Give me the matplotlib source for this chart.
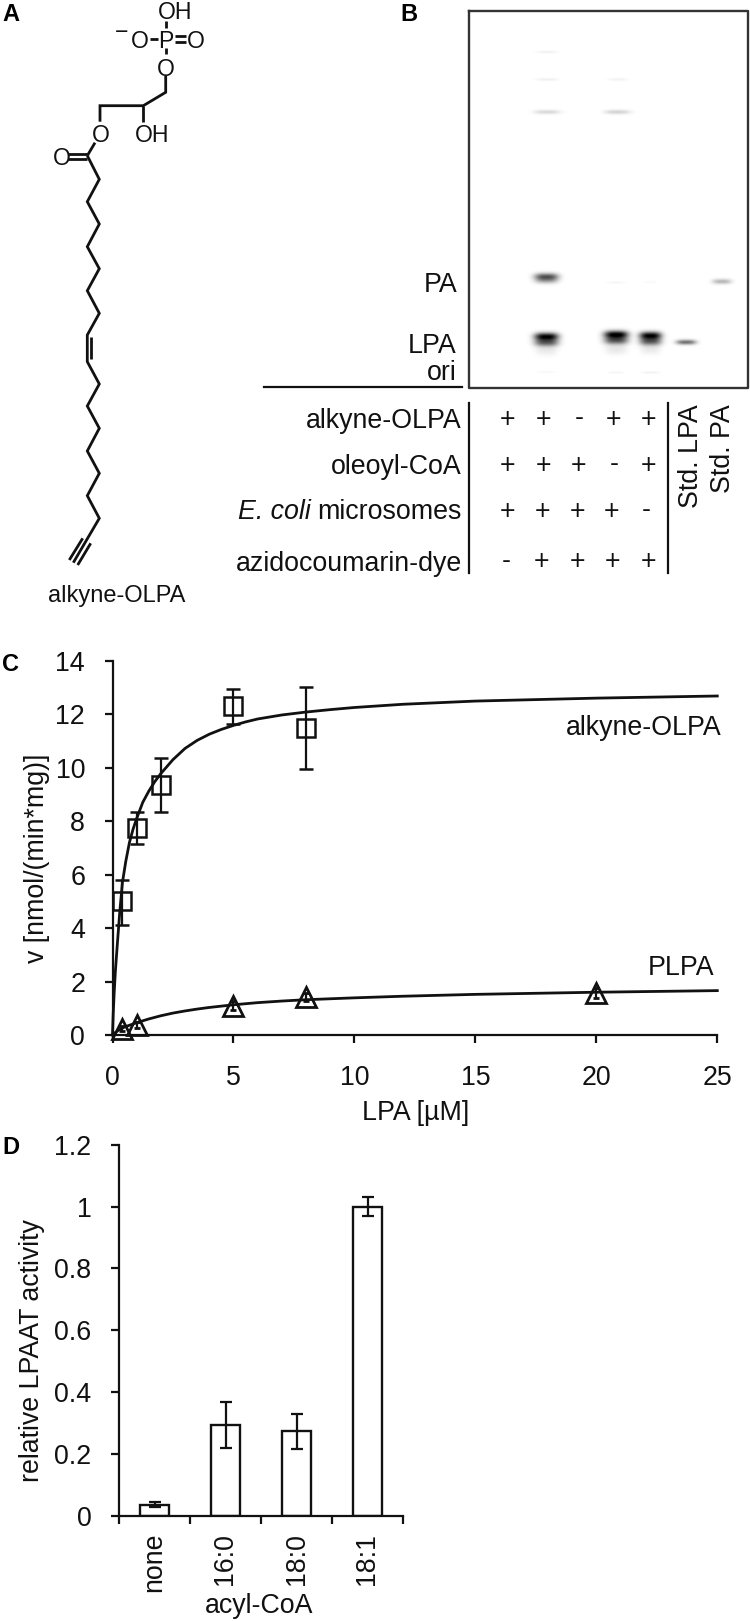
"""Figura de cuatro paneles: estructura alkyne-OLPA, TLC, cinética y especificidad de acil-CoA."""
import numpy as np
import matplotlib
matplotlib.use('Agg')
import matplotlib.pyplot as plt

plt.rcParams['font.family'] = ['Liberation Sans', 'DejaVu Sans']

W, H = 750, 1621
INK = '#111111'
FS = 19.3

# Panel C
alkyne_x = [0.4, 1, 2, 5, 8]
alkyne_y = [5.0, 7.75, 9.35, 12.3, 11.5]
alkyne_hi = [5.8, 8.35, 10.35, 12.95, 13.0]
alkyne_lo = [4.1, 7.15, 8.35, 11.65, 9.95]
plpa_x = [0.4, 1, 5, 8, 20]
plpa_y = [0.24, 0.37, 1.1, 1.43, 1.57]
plpa_err = [0.1, 0.1, 0.17, 0.15, 0.2]
fit_alkyne_x = [0, .03, .07, .12, .2, .3, .41, .55, .7, .85, 1, 1.25, 1.5, 1.75, 2, 2.5, 3, 3.5, 4, 4.5, 5, 5.5, 6, 7, 8, 9, 10, 12, 15, 20, 25]
fit_alkyne_y = [0, .8, 1.6, 2.4, 3.4, 4.6, 5.7, 6.5, 7.2, 7.7, 8.1, 8.7, 9.12, 9.48, 9.78, 10.3, 10.72, 11.02, 11.25, 11.43, 11.58, 11.71, 11.82, 11.97, 12.08, 12.17, 12.25, 12.37, 12.49, 12.6, 12.68]
fit_plpa_x = [0, .1, .25, .5, .75, 1, 1.5, 2, 2.5, 3, 3.5, 4, 4.5, 5, 6, 7, 8, 10, 12, 15, 20, 25]
fit_plpa_y = [0, .08, .18, .3, .38, .46, .6, .72, .82, .9, .97, 1.03, 1.08, 1.13, 1.21, 1.27, 1.32, 1.39, 1.45, 1.52, 1.6, 1.66]

# Panel D
acyl_labels = ['none', '16:0', '18:0', '18:1']
acyl_values = [0.035, 0.295, 0.275, 1.0]
acyl_hi = [0.045, 0.37, 0.33, 1.032]
acyl_lo = [0.028, 0.22, 0.215, 0.97]

# Panel B: lane x, y, half width, half height, darkness
gel_bands = [
    (546.7, 51.5, 11, 1.5, .05), (546.7, 79, 11, 1.5, .06), (546.7, 111.5, 13, 2.2, .15),
    (617.5, 79, 10, 1.5, .05), (617, 111.5, 13, 2.2, .17),
    (546, 276, 12, 3.4, .62), (546, 280, 11.5, 3.2, .3),
    (615.5, 282, 9, 1.2, .04), (650, 281.5, 8, 1.2, .025), (721.5, 281, 9.5, 2.6, .28),
    (546, 336, 12, 3.8, .95), (546, 342, 12, 4, .6), (546, 350, 11, 5, .08),
    (615.7, 334, 12, 3.8, .98), (615.7, 340, 12, 4, .62), (615.7, 349, 11, 5, .09),
    (650, 335, 11, 3.8, .95), (650, 341, 11, 4, .6), (650, 349, 10, 5, .08),
    (685.7, 341.7, 10, 2.5, .55),
    (546, 371.5, 9, 1.2, .03), (615.5, 372, 8, 1.4, .04), (650, 372, 9, 1.4, .05),
]

row_labels = ['alkyne-OLPA', 'oleoyl-CoA', 'microsomes', 'azidocoumarin-dye']
row_baselines = [427.5, 474, 519, 571]
row_signs = [['+', '+', '-', '+', '+'], ['+', '+', '+', '-', '+'], ['+', '+', '+', '+', '-'], ['-', '+', '+', '+', '+']]
row_sign_x = [[507.7, 543.3, 579, 613.3, 648.3], [507.7, 543.3, 578.5, 614, 648.3],
              [507.7, 542.7, 577.5, 612, 646.7], [506.7, 541.7, 577.5, 613, 648.3]]
row_sign_y = [418, 464, 510, 560.7]

# Panel A: enlaces de la estructura
bonds = [
    [(166, 21), (166, 28)], [(150, 39), (158, 39)], [(175, 35.7), (186, 35.7)], [(175, 41.7), (186, 41.7)],
    [(166, 48.3), (166, 54)],
    [(165.7, 76), (165.7, 92.3), (143.3, 105.7), (100, 105.7), (100, 121.7)],
    [(143.3, 105.7), (143.3, 121.7)],
    [(95, 142.7), (87.3, 155.7)], [(68.3, 154), (87.3, 154)], [(68.3, 159.3), (87.3, 159.3)],
    [(87.3, 155.7), (99.3, 179.3), (87.3, 201.7), (99.3, 224), (87.3, 246.7), (99.3, 268.7), (87.3, 290.7),
     (99.3, 313.3), (87.3, 335), (87.3, 361.7), (99.3, 384), (87.3, 406), (99.3, 428.3), (87.3, 451),
     (99.3, 473.3), (87.3, 495.7), (99.3, 518.3), (73.3, 562.7)],
    [(90.7, 336.7), (90.7, 359.3)],
    [(82.7, 538.3), (69.3, 560)], [(90.7, 543.3), (77.7, 565)],
]
atoms = [('OH', 175, 10), ('P', 166.3, 38.5), ('O', 140, 39), ('O', 196, 39), ('O', 165.7, 66.7),
         ('OH', 152, 133), ('O', 101, 133.3), ('O', 62.3, 156), ('\u2212', 122, 30)]


def px_axes(left, top, right, bottom):
    return fig.add_axes([left / W, 1 - bottom / H, (right - left) / W, (bottom - top) / H])


fig = plt.figure(figsize=(W / 100, H / 100), dpi=100)

# capa en píxeles para A y B
bg = fig.add_axes([0, 0, 1, 1])
bg.set_xlim(0, W)
bg.set_ylim(H, 0)
bg.axis('off')

for seg in bonds:
    xs, ys = zip(*seg)
    bg.plot(xs, ys, color=INK, lw=2.0, solid_joinstyle='miter', solid_capstyle='butt')
for txt, ax_x, ax_y in atoms:
    bg.text(ax_x, ax_y, txt, fontsize=16.6, ha='center', va='center_baseline', color=INK)
bg.text(117, 601.7, 'alkyne-OLPA', fontsize=17, ha='center', va='baseline', color=INK)

for txt, lx, ly in [('A', 2, 21), ('B', 400, 21), ('C', 2, 670.7), ('D', 2, 1154)]:
    bg.text(lx, ly, txt, fontsize=17, fontweight='bold', ha='left', va='baseline', color='black')

# gel
gx = np.arange(469, 749)
gy = np.arange(10, 389)
xx, yy = np.meshgrid(gx, gy)
gel = np.zeros(xx.shape)
for bx, by, bw, bh, dark in gel_bands:
    gel += dark * np.exp(-np.abs((xx - bx) / bw) ** 3) * np.exp(-((yy - by) / bh) ** 2)
bg.imshow(1 - np.clip(gel, 0, 1), cmap='gray', vmin=0, vmax=1, extent=(469, 749, 389, 10),
          aspect='auto', interpolation='bilinear', zorder=0)
bg.set_xlim(0, W)
bg.set_ylim(H, 0)
bg.plot([469.3, 747.7, 747.7, 469.3, 469.3], [10.7, 10.7, 387.7, 387.7, 10.7], color='#333333', lw=1.7)

bg.plot([264, 461.7], [387.3, 387.3], color=INK, lw=1.6)
bg.plot([469.3, 469.3], [402.7, 572.7], color=INK, lw=1.6)
bg.plot([667.7, 667.7], [402.7, 572.7], color=INK, lw=1.6)

for txt, rx, by in [('PA', 458, 291.7), ('LPA', 457, 353), ('ori', 457, 380)]:
    bg.text(rx, by, txt, fontsize=FS, ha='right', va='baseline', color=INK)
for txt, by in zip(row_labels, row_baselines):
    t = bg.text(462, by, txt, fontsize=FS, ha='right', va='baseline', color=INK)
    if txt == 'microsomes':
        # la parte en cursiva va pegada a la izquierda de "microsomes"
        box = t.get_window_extent(fig.canvas.get_renderer())
        bg.text(box.x0 - 7, by, 'E. coli', fontsize=FS, style='italic', ha='right', va='baseline', color=INK)
for signs, xs, sy in zip(row_signs, row_sign_x, row_sign_y):
    for sign, sx in zip(signs, xs):
        off = 8.6 if sign == '+' else 6.8
        bg.text(sx, sy + off, sign, fontsize=FS, ha='center', va='baseline', color=INK)
bg.text(690.7, 404, 'Std. LPA', rotation=90, fontsize=FS, ha='center', va='top', color=INK)
bg.text(723, 404, 'Std. PA', rotation=90, fontsize=FS, ha='center', va='top', color=INK)

# panel C
ax = px_axes(112.5, 660.7, 717.3, 1035)
ax.patch.set_alpha(0)
ax.plot(fit_alkyne_x, fit_alkyne_y, color=INK, lw=2.0, clip_on=False)
ax.plot(fit_plpa_x, fit_plpa_y, color=INK, lw=2.0, clip_on=False)
yerr = [np.array(alkyne_y) - np.array(alkyne_lo), np.array(alkyne_hi) - np.array(alkyne_y)]
ax.errorbar(alkyne_x, alkyne_y, yerr=yerr, fmt='s', ms=13, mfc='none', mec=INK, mew=1.8,
            ecolor=INK, elinewidth=1.6, capsize=5, capthick=1.6, clip_on=False)
ax.errorbar(plpa_x, plpa_y, yerr=plpa_err, fmt='^', ms=14, mfc='none', mec=INK, mew=2.0,
            ecolor=INK, elinewidth=1.6, capsize=2, capthick=1.6, clip_on=False)
ax.set_xlim(0, 25)
ax.set_ylim(0, 14)
ax.set_xticks([0, 5, 10, 15, 20, 25])
ax.set_yticks(range(0, 15, 2))
ax.tick_params(axis='both', width=1.6, length=5.8, color=INK, labelsize=FS, labelcolor=INK)
ax.tick_params(axis='x', pad=16)
ax.tick_params(axis='y', pad=14)
for s in ['top', 'right']:
    ax.spines[s].set_visible(False)
for s in ['left', 'bottom']:
    ax.spines[s].set_linewidth(1.6)
    ax.spines[s].set_color(INK)
bg.text(721.7, 735, 'alkyne-OLPA', fontsize=FS, ha='right', va='baseline', color=INK)
bg.text(714, 975, 'PLPA', fontsize=FS, ha='right', va='baseline', color=INK)
bg.text(415.5, 1120, 'LPA [µM]', fontsize=FS, ha='center', va='baseline', color=INK)
bg.text(37, 858, 'v [nmol/(min*mg)]', fontsize=FS, rotation=90, ha='center', va='center', color=INK)

# panel D
ax2 = px_axes(119, 1144.7, 403, 1516)
ax2.patch.set_alpha(0)
centers = np.arange(len(acyl_labels)) + 0.5
yerr2 = [np.array(acyl_values) - np.array(acyl_lo), np.array(acyl_hi) - np.array(acyl_values)]
ax2.bar(centers, acyl_values, width=0.41, facecolor='white', edgecolor=INK, linewidth=1.7)
ax2.errorbar(centers, acyl_values, yerr=yerr2, fmt='none', ecolor=INK, elinewidth=1.6, capsize=4.3, capthick=1.6)
ax2.set_xlim(0, 4)
ax2.set_ylim(0, 1.2)
ax2.set_xticks(range(5))
ax2.set_xticklabels([])
ax2.set_xticks(centers, labels=acyl_labels, minor=True, rotation=90)
ax2.set_yticks([0, 0.2, 0.4, 0.6, 0.8, 1.0, 1.2], labels=['0', '0.2', '0.4', '0.6', '0.8', '1', '1.2'])
ax2.tick_params(axis='both', which='major', width=1.6, length=5.8, color=INK, labelsize=FS, labelcolor=INK)
ax2.tick_params(axis='x', which='minor', length=0, pad=12, labelsize=FS, labelcolor=INK)
ax2.tick_params(axis='y', pad=14)
for s in ['top', 'right']:
    ax2.spines[s].set_visible(False)
for s in ['left', 'bottom']:
    ax2.spines[s].set_linewidth(1.6)
    ax2.spines[s].set_color(INK)
bg.text(259, 1613, 'acyl-CoA', fontsize=FS, ha='center', va='baseline', color=INK)
bg.text(32, 1351, 'relative LPAAT activity', fontsize=FS, rotation=90, ha='center', va='center', color=INK)

fig.savefig('out.png', dpi=100)
plt.close(fig)
